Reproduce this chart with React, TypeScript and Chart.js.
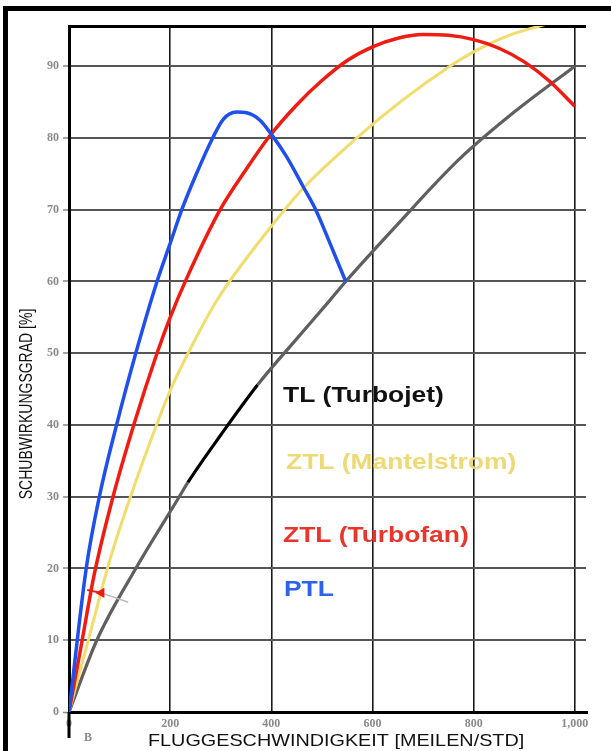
import React, { useEffect, useRef } from 'react';
import { Chart, registerables } from 'chart.js';

Chart.register(...registerables);

// ---------- data ----------
const xTickValues = [0, 200, 400, 600, 800, 1000];
const yTickValues = [0, 10, 20, 30, 40, 50, 60, 70, 80, 90];
const xMax = 1022;
const yMax = 95.6;

// PTL (blue)
const ptlMiles = [0, 34, 60, 94, 132, 174, 200, 223, 250, 284, 305, 331, 351, 377, 399, 430, 463, 489, 516, 547];
const ptlEff = [0, 20, 30, 40, 50, 60, 65.3, 70, 74.7, 80, 82.6, 83.6, 83.5, 82.5, 80.6, 77.4, 73.2, 69.8, 65.3, 60];

// ZTL (Turbofan) (red)
const fanMiles = [0, 25, 50, 87, 128, 174, 200, 233, 298, 350, 397, 450, 500, 550, 600, 650, 700, 750, 800, 850, 900, 950, 1000];
const fanEff = [0, 9.6, 19.2, 30, 40, 50, 55, 60.5, 69.9, 75.6, 80.3, 84.6, 88, 90.8, 92.7, 93.9, 94.4, 94.3, 93.7, 92.5, 90.6, 87.9, 84.4];

// ZTL (Mantelstrom) (yellow)
const mantelMiles = [0, 40, 80, 124, 173, 200, 259, 298, 399, 463, 569, 660, 753, 800, 870, 941, 1000];
const mantelEff = [0, 10.5, 21, 30.5, 40, 44.8, 53.2, 58, 67.6, 73, 80, 85.3, 90, 92, 94.3, 95.8, 97];

// TL (Turbojet) (grey, black middle part)
const tlMiles = [0, 55, 132, 218, 235, 300, 373, 450, 516, 547, 650, 771, 880, 1000];
const tlEff = [0, 10, 20, 30, 32, 38.6, 45.6, 52, 57.4, 60, 68, 77, 83.6, 90];
const tlBlackRange = [235, 373];

// small arrow near the origin
const arrowRedMiles = [36, 64];
const arrowRedEff = [17.0, 16.6];
const arrowGreyMiles = [64, 117];
const arrowGreyEff = [16.6, 15.3];

const seriesNames = ['PTL', 'ZTL (Turbofan)', 'ZTL (Mantelstrom)', 'TL (Turbojet)'];
const xTitle = 'FLUGGESCHWINDIGKEIT [MEILEN/STD]';
const yTitle = 'SCHUBWIRKUNGSGRAD [%]';
const originMark = 'B';

// ---------- helpers ----------
const pts = (xs: number[], ys: number[]) => xs.map((x, i) => ({ x, y: ys[i] }));

const COLORS = {
  blue: '#1f50ee',
  red: '#f01c12',
  yellow: '#f2dc6c',
  grey: '#5f5f5f',
  blueText: '#2d62ea',
  redText: '#e8362c',
  yellowText: '#efd976',
};

const tickFont = { family: '"Liberation Serif", serif', size: 12, weight: 'bold' as const };

const decorPlugin = {
  id: 'decor',
  beforeDraw(chart: any) {
    const { ctx, width, height } = chart;
    ctx.save();
    ctx.fillStyle = '#ffffff';
    ctx.fillRect(0, 0, width, height);
    ctx.fillStyle = '#000000';
    ctx.fillRect(3, 6, 5, height - 6);
    ctx.fillRect(3, 6, width - 3, 5);
    ctx.restore();
  },
  afterDraw(chart: any) {
    const { ctx, chartArea, scales } = chart;
    const x0 = scales.x.getPixelForValue(0);
    ctx.save();
    ctx.strokeStyle = '#000';
    ctx.lineWidth = 3;
    ctx.beginPath();
    ctx.moveTo(x0, chartArea.bottom);
    ctx.lineTo(x0, chartArea.bottom + 26);
    ctx.stroke();
    ctx.restore();

    const drawText = (text: string, x: number, y: number, font: string, color: string, sx = 1.2) => {
      ctx.save();
      ctx.font = font;
      ctx.fillStyle = color;
      ctx.textBaseline = 'alphabetic';
      ctx.textAlign = 'left';
      ctx.translate(x, y);
      ctx.scale(sx, 1);
      ctx.fillText(text, 0, 0);
      ctx.restore();
    };
    const bold = 'bold 22px "Liberation Sans", Arial, sans-serif';
    drawText(seriesNames[3], 283, 402, bold, '#111111');
    drawText(seriesNames[2], 286, 469, bold, COLORS.yellowText);
    drawText(seriesNames[1], 283, 542, bold, COLORS.redText);
    drawText(seriesNames[0], 284, 596, bold, COLORS.blueText);

    // x title
    drawText(xTitle, 148, 746, '16.5px "Liberation Sans", Arial, sans-serif', '#111111', 1.2);

    // y title (rotated)
    ctx.save();
    ctx.font = '14px "Liberation Sans", Arial, sans-serif';
    ctx.fillStyle = '#111111';
    ctx.textAlign = 'center';
    ctx.textBaseline = 'middle';
    ctx.translate(27, 404);
    ctx.rotate(-Math.PI / 2);
    ctx.scale(1, 1.25);
    ctx.fillText(yTitle, 0, 0);
    ctx.restore();

    // origin mark
    ctx.save();
    ctx.font = 'bold 12px "Liberation Serif", serif';
    ctx.fillStyle = '#8a8a8a';
    ctx.textAlign = 'center';
    ctx.textBaseline = 'middle';
    ctx.fillText(originMark, 88, 738);
    ctx.restore();
  },
};

export default function App() {
  const ref = useRef<HTMLCanvasElement | null>(null);

  useEffect(() => {
    if (!ref.current) return;
    const chart = new Chart(ref.current, {
      type: 'line',
      data: {
        datasets: [
          {
            label: 'arrow',
            data: pts(arrowRedMiles, arrowRedEff),
            borderColor: COLORS.red,
            backgroundColor: COLORS.red,
            borderWidth: 2,
            pointRadius: [0, 4],
            pointStyle: 'triangle',
            rotation: 270,
          },
          {
            label: 'arrow-line',
            data: pts(arrowGreyMiles, arrowGreyEff),
            borderColor: '#b8b8b8',
            borderWidth: 1.5,
            pointRadius: 0,
          },
          {
            label: seriesNames[0],
            data: pts(ptlMiles, ptlEff),
            borderColor: COLORS.blue,
            borderWidth: 3.5,
            pointRadius: 0,
            cubicInterpolationMode: 'monotone',
          },
          {
            label: seriesNames[1],
            data: pts(fanMiles, fanEff),
            borderColor: COLORS.red,
            borderWidth: 3.5,
            pointRadius: 0,
            cubicInterpolationMode: 'monotone',
          },
          {
            label: seriesNames[2],
            data: pts(mantelMiles, mantelEff),
            borderColor: COLORS.yellow,
            borderWidth: 3,
            pointRadius: 0,
            cubicInterpolationMode: 'monotone',
          },
          {
            label: seriesNames[3],
            data: pts(tlMiles, tlEff),
            borderColor: COLORS.grey,
            borderWidth: 3.2,
            pointRadius: 0,
            cubicInterpolationMode: 'monotone',
            segment: {
              borderColor: (c: any) =>
                c.p0.parsed.x >= tlBlackRange[0] && c.p1.parsed.x <= tlBlackRange[1] ? '#000000' : undefined,
            },
          },
        ] as any,
      },
      options: {
        animation: false,
        responsive: false,
        devicePixelRatio: 1,
        layout: { padding: { left: 0, top: 26, right: 25, bottom: 0 } },
        plugins: { legend: { display: false }, tooltip: { enabled: false } },
        scales: {
          x: {
            type: 'linear',
            min: 0,
            max: xMax,
            afterBuildTicks: (axis: any) => {
              axis.ticks = xTickValues.map((v) => ({ value: v }));
            },
            afterFit: (axis: any) => {
              axis.height = 39;
            },
            grid: {
              drawTicks: false,
              color: (c: any) => (c.tick && c.tick.value === 0 ? '#000000' : '#1a1a1a'),
              lineWidth: (c: any) => (c.tick && c.tick.value === 0 ? 3 : 1.6),
            },
            border: { display: true, color: '#000000', width: 3 },
            ticks: {
              padding: 5,
              color: '#8a8a8a',
              font: tickFont,
              maxRotation: 0,
              autoSkip: false,
              callback: (v: any) => Number(v).toLocaleString('en-US'),
            },
          },
          y: {
            type: 'linear',
            min: 0,
            max: yMax,
            afterBuildTicks: (axis: any) => {
              axis.ticks = [...yTickValues, yMax].map((v) => ({ value: v }));
            },
            afterFit: (axis: any) => {
              axis.width = 69;
            },
            grid: {
              drawTicks: true,
              tickLength: 6,
              tickWidth: 1.5,
              tickColor: (c: any) => (c.tick && c.tick.value === yMax ? 'rgba(0,0,0,0)' : '#8a8a8a'),
              color: (c: any) =>
                c.tick && (c.tick.value === 0 || c.tick.value === yMax) ? '#000000' : '#555555',
              lineWidth: (c: any) => (c.tick && (c.tick.value === 0 || c.tick.value === yMax) ? 3 : 2),
            },
            border: { display: true, color: '#000000', width: 3 },
            ticks: {
              padding: 4,
              color: '#8a8a8a',
              font: tickFont,
              autoSkip: false,
              callback: (v: any) => (yTickValues.includes(Number(v)) ? String(v) : ''),
            },
          },
        },
      } as any,
      plugins: [decorPlugin],
    });
    return () => chart.destroy();
  }, []);

  return (
    <div style={{ position: 'absolute', left: 0, top: 0, width: 611, height: 751, background: '#fff' }}>
      <canvas ref={ref} width={611} height={751} style={{ display: 'block', width: 611, height: 751 }} />
    </div>
  );
}
